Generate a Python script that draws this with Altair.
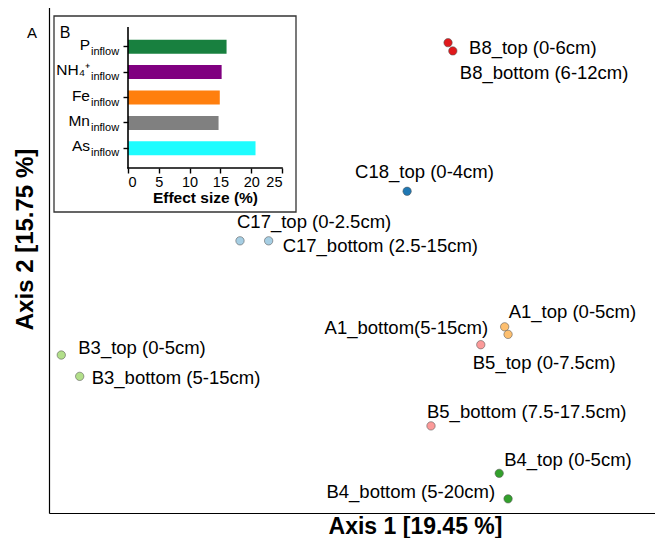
import altair as alt
import pandas as pd

# ---- main ordination data ----
samples = ["B8_top (0-6cm)", "B8_bottom (6-12cm)", "C18_top (0-4cm)",
           "C17_top (0-2.5cm)", "C17_bottom (2.5-15cm)", "A1_top (0-5cm)",
           "A1_bottom(5-15cm)", "B5_top (0-7.5cm)", "B5_bottom (7.5-17.5cm)",
           "B4_top (0-5cm)", "B4_bottom (5-20cm)", "B3_top (0-5cm)",
           "B3_bottom (5-15cm)"]
sites = ["B8", "B8", "C18", "C17", "C17", "A1", "A1", "B5", "B5", "B4", "B4", "B3", "B3"]
axis1 = [0.185, 0.192, 0.125, -0.120, -0.078, 0.268, 0.273, 0.233, 0.160, 0.260, 0.273, -0.382, -0.355]
axis2 = [0.338, 0.326, 0.122, 0.050, 0.050, -0.075, -0.086, -0.101, -0.219, -0.288, -0.325, -0.116, -0.147]

site_order = ["B8", "C18", "C17", "A1", "B5", "B4", "B3"]
site_colors = ["#e0191c", "#1f78b4", "#a6cee3", "#fdbf6f", "#fb9a99", "#33a02c", "#b2df8a"]

# ---- inset data ----
inflow_vars = ["P", "NH₄⁺", "Fe", "Mn", "As"]
effect_size = [16.0, 15.2, 14.9, 14.7, 20.7]
bar_colors = ["#18803f", "#800080", "#ff7f0e", "#808080", "#1efcfe"]
effect_ticks = [0, 5, 10, 15, 20, 25]

# label placement (pixels relative to point): align, dx, dy
label_style = {
    "B8_top (0-6cm)": ("left", 21, 5),
    "B8_bottom (6-12cm)": ("left", 7, 22),
    "C18_top (0-4cm)": ("left", -52, -19),
    "C17_top (0-2.5cm)": ("left", -3, -19),
    "C17_bottom (2.5-15cm)": ("left", 14, 5),
    "A1_top (0-5cm)": ("left", 4, -15),
    "A1_bottom(5-15cm)": ("right", -20, -6),
    "B5_top (0-7.5cm)": ("left", -8, 18),
    "B5_bottom (7.5-17.5cm)": ("left", -4, -14),
    "B4_top (0-5cm)": ("left", 5, -13),
    "B4_bottom (5-20cm)": ("right", -13, -7),
    "B3_top (0-5cm)": ("left", 17, -7),
    "B3_bottom (5-15cm)": ("left", 12, 2),
}

FONT = "Liberation Sans"

df = pd.DataFrame({"sample": samples, "site": sites, "axis1": axis1, "axis2": axis2})
bar_df = pd.DataFrame({"var": inflow_vars, "effect": effect_size})
one = pd.DataFrame({"k": [0]})

X = alt.X("axis1:Q",
          scale=alt.Scale(domain=[-0.4, 0.4884], nice=False, zero=False),
          axis=alt.Axis(orient="bottom", title="Axis 1 [19.45 %]", labels=False, ticks=False, grid=False,
                        domainColor="black", domainWidth=1.2, titleFontSize=23,
                        titleFontWeight="bold", titleFont=FONT, titleX=366,
                        titlePadding=2, titleColor="black"))
Y = alt.Y("axis2:Q",
          scale=alt.Scale(domain=[-0.3456, 0.3913], nice=False, zero=False),
          axis=alt.Axis(orient="left", title="Axis 2 [15.75 %]", labels=False, ticks=False, grid=False,
                        domainColor="black", domainWidth=1.2, titleFontSize=24,
                        titleFontWeight="bold", titleFont=FONT, titleY=233,
                        titlePadding=12, titleColor="black"))
C = alt.Color("site:N", scale=alt.Scale(domain=site_order, range=site_colors), legend=None)

points = alt.Chart(df).mark_point(filled=True, size=70, opacity=1, stroke="#555555",
                                  strokeWidth=0.8, strokeOpacity=0.7).encode(x=X, y=Y, color=C)

main_layers = [points]
for s in samples:
    al, dx, dy = label_style[s]
    main_layers.append(
        alt.Chart(df).transform_filter(alt.datum.sample == s)
        .mark_text(align=al, baseline="middle", dx=dx, dy=dy, fontSize=18.5, font=FONT, color="black")
        .encode(x=X, y=Y, text="sample:N")
    )
main_layers.append(
    alt.Chart(one).mark_text(fontSize=15, font=FONT, color="black", align="center", baseline="middle")
    .encode(x=alt.value(-17), y=alt.value(27), text=alt.value("A"))
)
main = alt.layer(*main_layers)

# ---- inset ----
IX = alt.X("effect:Q",
           scale=alt.Scale(domain=[0, 25], range=[79, 233], nice=False, zero=True),
           axis=alt.Axis(orient="bottom", offset=-345, values=effect_ticks, title="Effect size (%)",
                         grid=False, domain=False, tickColor="black",
                         tickSize=5, tickWidth=1.4, labelFontSize=14.5, labelFont=FONT, labelColor="black",
                         labelPadding=2, titleFontSize=15.5, titleFontWeight="bold", titleFont=FONT,
                         titleColor="black", titlePadding=2, zindex=3))
IY = alt.Y("var:N", sort=inflow_vars,
           scale=alt.Scale(domain=inflow_vars, range=[21, 162], paddingInner=0.45, paddingOuter=0.5),
           axis=alt.Axis(orient="left", offset=-79, labels=False, title=None, grid=False, domain=False,
                         tickColor="black", tickSize=5, tickWidth=1.4, zindex=3))

frame = alt.Chart(one).mark_rect(fill="white", stroke="#333333", strokeWidth=1.3).encode(
    x=alt.value(5), x2=alt.value(247), y=alt.value(10), y2=alt.value(206))
b_label = alt.Chart(one).mark_text(fontSize=16, font=FONT, color="black", align="center",
                                   baseline="middle").encode(
    x=alt.value(16), y=alt.value(27), text=alt.value("B"))
bars = alt.Chart(bar_df).mark_bar().encode(
    x=IX, y=IY,
    color=alt.Color("var:N", scale=alt.Scale(domain=inflow_vars, range=bar_colors), legend=None))
var_text = alt.Chart(bar_df).mark_text(align="right", baseline="alphabetic", dy=3, fontSize=15.5,
                                       font=FONT, color="black").encode(
    x=alt.value(41), y=IY, text="var:N")
sub_text = alt.Chart(bar_df).mark_text(align="left", baseline="alphabetic", dy=8, fontSize=11,
                                       font=FONT, color="black").encode(
    x=alt.value(42), y=IY, text=alt.value("inflow"))
# inset axis lines along the inset scale ranges
inset_yline = alt.Chart(one).mark_rule(color="black", strokeWidth=1.6).encode(
    x=alt.value(79), y=alt.value(21), y2=alt.value(162.5))
inset_xline = alt.Chart(one).mark_rule(color="black", strokeWidth=1.6).encode(
    x=alt.value(78.2), x2=alt.value(233.8), y=alt.value(162))

inset = alt.layer(frame, b_label, bars, var_text, sub_text, inset_yline, inset_xline)

chart = alt.layer(main, inset).resolve_scale(
    x="independent", y="independent", color="independent"
).properties(
    width=606, height=507,
    autosize=alt.AutoSizeParams(type="none"),
    padding={"left": 41, "top": -2, "right": 0, "bottom": 25},
).configure_view(stroke="transparent", strokeWidth=0).configure(font=FONT).configure_axisTop(
    domain=False, ticks=False, labels=False, title=None
).configure_axisRight(domain=False, ticks=False, labels=False, title=None)

chart.save("out.html", embed_options={"renderer": "svg", "actions": False})
